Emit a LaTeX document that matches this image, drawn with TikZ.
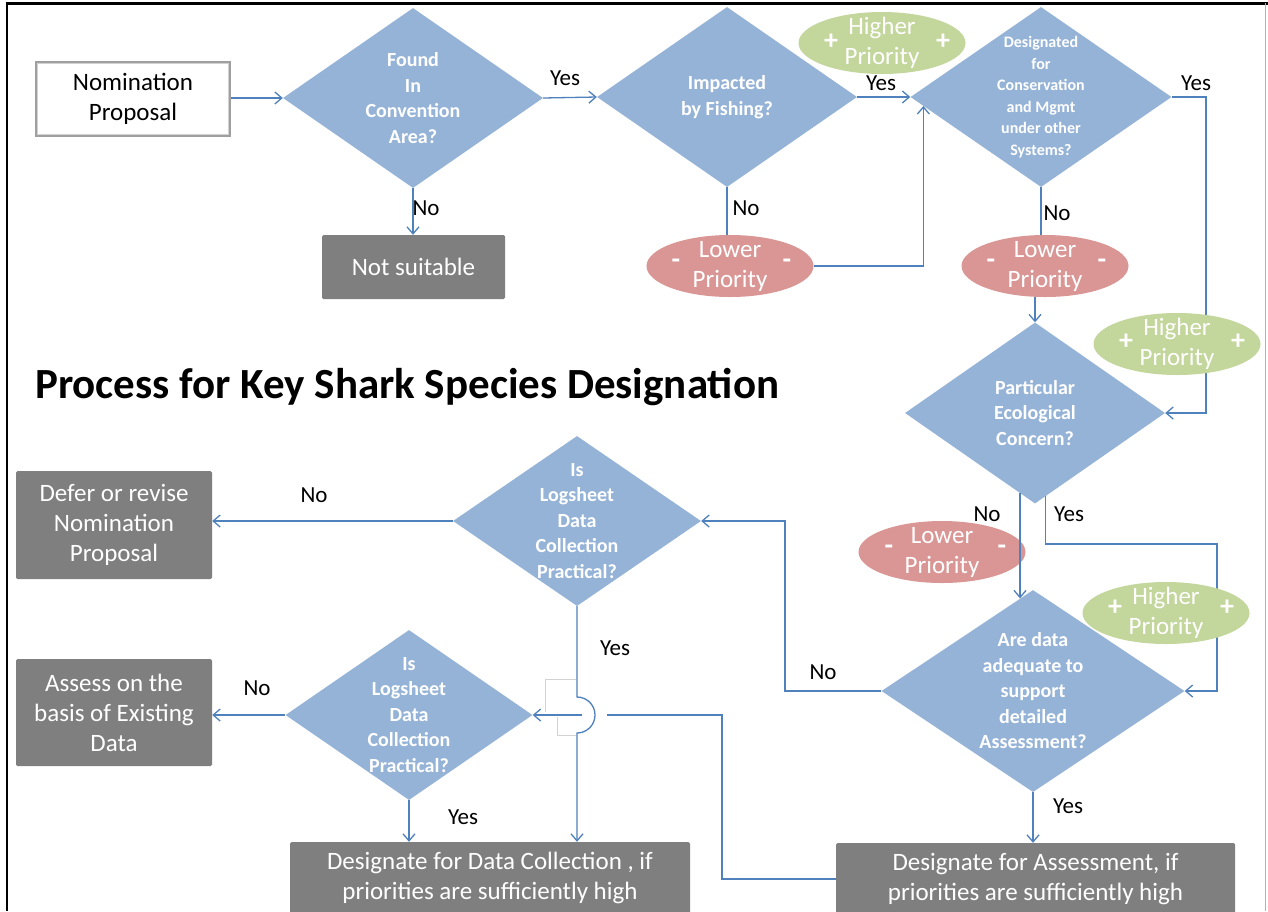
\documentclass[tikz,border=0pt]{standalone}
\usepackage{fontspec}
\setmainfont{Carlito}
\usetikzlibrary{shapes.geometric,arrows.meta,calc,backgrounds}
\definecolor{diablue}{RGB}{149,179,215}
\definecolor{lineblue}{RGB}{79,129,189}
\definecolor{boxgray}{RGB}{127,127,127}
\definecolor{lowred}{RGB}{217,150,148}
\definecolor{highgreen}{RGB}{195,214,155}
\begin{document}
\begin{tikzpicture}[x=1pt,y=-1pt,
  conn/.style={draw=lineblue, line width=1.3pt, -{Straight Barb[length=7pt,width=12pt,line width=1.3pt]}},
  wire/.style={draw=lineblue, line width=1.3pt},
  dia/.style={diamond, fill=diablue, inner sep=0pt, draw=none},
  dtext/.style={text=white, font=\bfseries\fontsize{20}{25.5}\selectfont, align=center, inner sep=0pt},
  gbox/.style={rectangle, fill=boxgray, text=white, font=\fontsize{25}{30}\selectfont, align=center, rounded corners=1.5pt, inner sep=0pt},
  ell/.style={ellipse, inner sep=0pt, minimum width=167pt, minimum height=62pt},
  etext/.style={text=white, font=\fontsize{25}{30}\selectfont, align=center, inner sep=0pt},
  sign/.style={text=white, font=\bfseries\fontsize{28}{28}\selectfont, inner sep=0pt},
  lbl/.style={font=\fontsize{23}{26}\selectfont, inner sep=0pt},
  ghost/.style={draw=gray!35, line width=0.6pt}
]
\useasboundingbox (0,0) rectangle (1268,911);
\begin{scope}[on background layer]
\fill[white] (0,0) rectangle (1268,911);
\end{scope}
% frame
\draw[line width=3pt] (5.5,3.5) -- (1268,3.5);
\draw[line width=2.6pt] (7,2) -- (7,911);
\draw[gray!60, line width=0.8pt] (1265,3) -- (1265,911);

% title
\node[anchor=base west, font=\bfseries\fontsize{43}{50}\selectfont, inner sep=0pt] (title) at (35,398) {Process for Key Shark Species Designation};

% start box
\node[draw=gray!75, line width=3.5pt, minimum width=193pt, minimum height=73pt, font=\fontsize{25}{30}\selectfont, align=center, inner sep=0pt] (nom) at (133,99) {Nomination\\Proposal};
\draw[gray!35, line width=0.8pt] ($(nom.south west)+(2.6,-2.6)$) rectangle ($(nom.north east)+(-2.6,2.6)$);

% diamonds
\node[dia, minimum width=260pt, minimum height=180pt] (d1) at (413,98) {};
\node[dtext] (t1) at (d1) {Found\\In\\Convention\\Area?};
\node[dia, minimum width=260pt, minimum height=180pt] (d2) at (727,97) {};
\node[dtext] (t2) at (d2) {Impacted\\by Fishing?};
\node[dia, minimum width=261pt, minimum height=180pt] (d3) at (1041,97) {};
\node[dtext, font=\bfseries\fontsize{16}{21.5}\selectfont] (t3) at (d3) {Designated\\for\\Conservation\\and Mgmt\\under other\\Systems?};
\node[dia, minimum width=260pt, minimum height=181pt] (d4) at (1035,413) {};
\node[dtext] (t4) at (d4) {Particular\\Ecological\\Concern?};
\node[dia, minimum width=303pt, minimum height=202pt] (d5) at (1033,691) {};
\node[dtext] (t5) at (d5) {Are data\\adequate to\\support\\detailed\\Assessment?};
\node[dia, minimum width=248pt, minimum height=170pt] (d6) at (577,521) {};
\node[dtext] (t6) at (d6) {Is\\Logsheet\\Data\\Collection\\Practical?};
\node[dia, minimum width=247pt, minimum height=170pt] (d7) at (409,715) {};
\node[dtext] (t7) at (d7) {Is\\Logsheet\\Data\\Collection\\Practical?};

% gray boxes
\node[gbox, minimum width=183pt, minimum height=64pt] (ns) at (413.5,267) {Not suitable};
\node[gbox, minimum width=196pt, minimum height=108pt] (defer) at (114,525) {Defer or revise\\Nomination\\Proposal};
\node[gbox, minimum width=196pt, minimum height=107pt] (assess) at (114,712.5) {Assess on the\\basis of Existing\\Data};
\node[gbox, minimum width=400pt, minimum height=72pt] (dc) at (490,878) {Designate for Data Collection , if\\priorities are sufficiently high};
\node[gbox, minimum width=399pt, minimum height=72pt] (as2) at (1035.5,879) {Designate for Assessment, if\\priorities are sufficiently high};

% ellipses
\node[ell, fill=highgreen] (hp1) at (882,43) {};
\node[etext] (hp1t) at (hp1) {Higher\\Priority};
\node[sign] (hp1a) at ($(hp1)+(-51,-1)$) {+};
\node[sign] (hp1b) at ($(hp1)+(61,-1)$) {+};

\node[ell, fill=highgreen] (hp2) at (1177,344) {};
\node[etext] (hp2t) at (hp2) {Higher\\Priority};
\node[sign] (hp2a) at ($(hp2)+(-51,-2)$) {+};
\node[sign] (hp2b) at ($(hp2)+(61,-2)$) {+};

\node[ell, fill=highgreen] (hp3) at (1166,613) {};
\node[etext] (hp3t) at (hp3) {Higher\\Priority};
\node[sign] (hp3a) at ($(hp3)+(-51,-5)$) {+};
\node[sign] (hp3b) at ($(hp3)+(61,-5)$) {+};

\node[ell, fill=lowred] (lp1) at (730,266) {};
\node[etext] (lp1t) at (lp1) {Lower\\Priority};
\node[sign] (lp1a) at ($(lp1)+(-54,-2)$) {-};
\node[sign] (lp1b) at ($(lp1)+(57,-2)$) {-};

\node[ell, fill=lowred] (lp2) at (1045,266) {};
\node[etext] (lp2t) at (lp2) {Lower\\Priority};
\node[sign] (lp2a) at ($(lp2)+(-54,-2)$) {-};
\node[sign] (lp2b) at ($(lp2)+(57,-2)$) {-};

\node[ell, fill=lowred] (lp3) at (942,552) {};
\node[etext] (lp3t) at (lp3) {Lower\\Priority};
\node[sign] (lp3a) at ($(lp3)+(-53,-2)$) {-};
\node[sign] (lp3b) at ($(lp3)+(60,-2)$) {-};

% helper coordinates
\coordinate (c0) at (1206,413);
\coordinate (c1) at (1217,544);
\coordinate (c2) at (785,521);
\coordinate (c3) at (722,715);
\coordinate (n4) at ($(d4.south)!0.115!(d4.west)$);
\coordinate (y4) at ($(d4.south)!0.08!(d4.east)$);
\coordinate (n5) at ($(d5.north)!0.085!(d5.west)$);
\coordinate (hopC) at (d6.south |- d7.east);
\coordinate (hopT) at ($(hopC)+(0,-18)$);

% connectors
\begin{scope}[on background layer]
\draw[conn] (d3.east) -| (c0) -- (d4.east);
\draw[conn] (y4) |- (c1) |- (d5.east);
\end{scope}
\draw[conn] (nom.east |- d1.west) -- (d1.west);
\draw[conn] (d1.east) -- (d2.west);
\draw[conn] (d2.east) -- (d3.west);
\draw[conn] (d1.south) -- (d1.south |- ns.north);
\draw[wire] (d2.south) -- (d2.south |- lp1.north);
\draw[conn] (lp1.east) -| ($(d3.west)!0.1!(d3.south)$);
\draw[wire] (d3.south) -- (d3.south |- lp2.north);
\draw[conn] (lp2.south -| d4.north) -- (d4.north);
\draw[conn] (n4) -- (n4 |- n5);
\draw[conn] (d5.south) -- (d5.south |- as2.north);
\draw[conn] (d5.west) -| (c2) -- (d6.east);
\draw[conn] (d6.west) -- (d6.west -| defer.east);
\draw[conn] (d7.west) -- (d7.west -| assess.east);
\draw[conn] (d7.south) -- (d7.south |- dc.north);
\draw[conn] (d6.south) -- (hopT) arc[start angle=-90, end angle=90, radius=18] -- (hopT |- dc.north);
\draw[wire] (as2.west) -| (c3) -- ($(hopC)+(30,0)$);
\draw[conn] ($(hopC)+(5,0)$) -- (d7.east);

% faint artifacts near the hop
\draw[ghost] (545,712) -- (545,679) -- (576,679);
\draw[ghost] (557,717) -- (557,735) -- (576,735);

% labels
\node[lbl] (l1) at (565,78) {Yes};
\node[lbl] (l2) at (426,208) {No};
\node[lbl] (l3) at (746,208) {No};
\node[lbl] (l4) at (881,83) {Yes};
\node[lbl] (l5) at (1057,213) {No};
\node[lbl] (l6) at (1196,83) {Yes};
\node[lbl] (l7) at (987,514) {No};
\node[lbl] (l8) at (1069,514) {Yes};
\node[lbl] (l9) at (823,672) {No};
\node[lbl] (l10) at (1068,806) {Yes};
\node[lbl] (l11) at (314,495) {No};
\node[lbl] (l12) at (615,648) {Yes};
\node[lbl] (l13) at (257,688) {No};
\node[lbl] (l14) at (463,817) {Yes};
\end{tikzpicture}
\end{document}
